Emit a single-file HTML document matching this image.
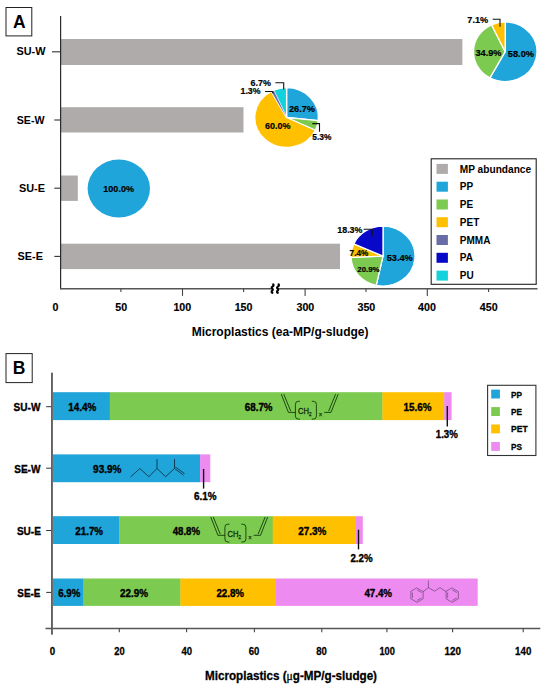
<!DOCTYPE html>
<html><head><meta charset="utf-8"><title>Microplastics in sludge</title>
<style>html,body{margin:0;padding:0;background:#fff}svg{display:block}text{font-family:"Liberation Sans",Arial,sans-serif;font-weight:bold}</style></head><body>
<svg width="550" height="691" viewBox="0 0 550 691">
<rect width="550" height="691" fill="#fff"/>
<!-- Panel A -->
<rect x="6" y="7.5" width="25.8" height="28.4" fill="#fff" stroke="#222" stroke-width="1"/>
<text x="19.2" y="27.7" font-size="17.5" text-anchor="middle" fill="#000" >A</text>
<rect x="61" y="39" width="401.4" height="26" fill="#AFABAB"/>
<line x1="52" y1="51.8" x2="60.5" y2="51.8" stroke="#333" stroke-width="1.1"/>
<text x="16.5" y="55.3" font-size="10.8" text-anchor="start" fill="#000" textLength="29.0" lengthAdjust="spacingAndGlyphs" >SU-W</text>
<rect x="61" y="107.2" width="182.5" height="25.3" fill="#AFABAB"/>
<line x1="54.3" y1="120" x2="60.5" y2="120" stroke="#333" stroke-width="1.1"/>
<text x="16.7" y="124" font-size="10.8" text-anchor="start" fill="#000" textLength="27.8" lengthAdjust="spacingAndGlyphs" >SE-W</text>
<rect x="61" y="175.5" width="16.799999999999997" height="25.4" fill="#AFABAB"/>
<line x1="54.3" y1="188.2" x2="60.5" y2="188.2" stroke="#333" stroke-width="1.1"/>
<text x="19" y="192.2" font-size="10.8" text-anchor="start" fill="#000" textLength="26" lengthAdjust="spacingAndGlyphs" >SU-E</text>
<rect x="61" y="243.7" width="279" height="25.4" fill="#AFABAB"/>
<line x1="54.3" y1="256.4" x2="60.5" y2="256.4" stroke="#333" stroke-width="1.1"/>
<text x="17.6" y="260.4" font-size="10.8" text-anchor="start" fill="#000" textLength="25.4" lengthAdjust="spacingAndGlyphs" >SE-E</text>
<line x1="60.6" y1="16" x2="60.6" y2="289.3" stroke="#2b2b2b" stroke-width="1.2"/>
<line x1="60" y1="288.7" x2="272" y2="288.7" stroke="#555" stroke-width="1.5"/>
<line x1="277.6" y1="288.7" x2="537.5" y2="288.7" stroke="#555" stroke-width="1.5"/>
<path d="M273.2,284.3 C275.0,286 270.0,287.2 272.2,288.7 C274.4,290.2 269.8,291.4 272.4,292.8" fill="none" stroke="#000" stroke-width="2.1" stroke-linecap="round"/>
<path d="M278.6,284.3 C280.40000000000003,286 275.40000000000003,287.2 277.6,288.7 C279.8,290.2 275.20000000000005,291.4 277.8,292.8" fill="none" stroke="#000" stroke-width="2.1" stroke-linecap="round"/>
<line x1="120.9" y1="288.7" x2="120.9" y2="291.9" stroke="#444" stroke-width="1.1"/>
<line x1="182.5" y1="288.7" x2="182.5" y2="295.9" stroke="#444" stroke-width="1.1"/>
<line x1="243.6" y1="288.7" x2="243.6" y2="291.9" stroke="#444" stroke-width="1.1"/>
<line x1="305.1" y1="288.7" x2="305.1" y2="295.9" stroke="#444" stroke-width="1.1"/>
<line x1="366" y1="288.7" x2="366" y2="291.9" stroke="#444" stroke-width="1.1"/>
<line x1="427.3" y1="288.7" x2="427.3" y2="295.9" stroke="#444" stroke-width="1.1"/>
<line x1="488.6" y1="288.7" x2="488.6" y2="291.9" stroke="#444" stroke-width="1.1"/>
<text x="55.5" y="310.8" font-size="10.7" text-anchor="middle" fill="#000"  stroke="#000" stroke-width="0.15" stroke-linejoin="round">0</text>
<text x="121.2" y="310.8" font-size="10.7" text-anchor="middle" fill="#000"  stroke="#000" stroke-width="0.15" stroke-linejoin="round">50</text>
<text x="182.3" y="310.8" font-size="10.7" text-anchor="middle" fill="#000"  stroke="#000" stroke-width="0.15" stroke-linejoin="round">100</text>
<text x="243.6" y="310.8" font-size="10.7" text-anchor="middle" fill="#000"  stroke="#000" stroke-width="0.15" stroke-linejoin="round">150</text>
<text x="305.4" y="310.8" font-size="10.7" text-anchor="middle" fill="#000"  stroke="#000" stroke-width="0.15" stroke-linejoin="round">300</text>
<text x="366.4" y="310.8" font-size="10.7" text-anchor="middle" fill="#000"  stroke="#000" stroke-width="0.15" stroke-linejoin="round">350</text>
<text x="427" y="310.8" font-size="10.7" text-anchor="middle" fill="#000"  stroke="#000" stroke-width="0.15" stroke-linejoin="round">400</text>
<text x="488.7" y="310.8" font-size="10.7" text-anchor="middle" fill="#000"  stroke="#000" stroke-width="0.15" stroke-linejoin="round">450</text>
<text x="191.7" y="335.7" font-size="12" text-anchor="start" fill="#000" textLength="176.8" lengthAdjust="spacingAndGlyphs" >Microplastics (ea-MP/g-sludge)</text>
<path d="M505.20,51.70 L505.20,21.90 A31.700000000000003,29.8 0 1 1 489.93,77.81 Z" fill="#1FA5D9" stroke="#fff" stroke-width="1.3" stroke-linejoin="round"/>
<path d="M505.20,51.70 L489.93,77.81 A31.700000000000003,29.8 0 0 1 491.52,24.82 Z" fill="#7DCA50" stroke="#fff" stroke-width="1.3" stroke-linejoin="round"/>
<path d="M505.20,51.70 L491.52,24.82 A31.700000000000003,29.8 0 0 1 505.20,21.90 Z" fill="#FFC000" stroke="#fff" stroke-width="1.3" stroke-linejoin="round"/>
<path d="M286.60,117.50 L286.60,87.60 A31.8,29.900000000000002 0 0 1 318.22,120.69 Z" fill="#1FA5D9" stroke="#fff" stroke-width="1.3" stroke-linejoin="round"/>
<path d="M286.60,117.50 L318.22,120.69 A31.8,29.900000000000002 0 0 1 315.37,130.23 Z" fill="#7DCA50" stroke="#fff" stroke-width="1.3" stroke-linejoin="round"/>
<path d="M286.60,117.50 L315.37,130.23 A31.8,29.900000000000002 0 1 1 271.28,91.30 Z" fill="#FFC000" stroke="#fff" stroke-width="1.3" stroke-linejoin="round"/>
<path d="M286.60,117.50 L271.28,91.30 A31.8,29.900000000000002 0 0 1 273.60,90.21 Z" fill="#6A6CA6" stroke="#fff" stroke-width="1.3" stroke-linejoin="round"/>
<path d="M286.60,117.50 L273.60,90.21 A31.8,29.900000000000002 0 0 1 286.60,87.60 Z" fill="#14D2DC" stroke="#fff" stroke-width="1.3" stroke-linejoin="round"/>
<path d="M286.60,117.50 L271.57,91.82 L273.85,90.76 Z" fill="#6A6CA6"/>
<ellipse cx="118.8" cy="188.5" rx="31.2" ry="29" fill="#1FA5D9"/>
<path d="M383.00,256.10 L383.00,226.20 A32.0,29.900000000000002 0 1 1 376.22,285.32 Z" fill="#1FA5D9" stroke="#fff" stroke-width="1.3" stroke-linejoin="round"/>
<path d="M383.00,256.10 L376.22,285.32 A32.0,29.900000000000002 0 0 1 351.03,257.41 Z" fill="#7DCA50" stroke="#fff" stroke-width="1.3" stroke-linejoin="round"/>
<path d="M383.00,256.10 L351.03,257.41 A32.0,29.900000000000002 0 0 1 353.79,243.88 Z" fill="#FFC000" stroke="#fff" stroke-width="1.3" stroke-linejoin="round"/>
<path d="M383.00,256.10 L353.79,243.88 A32.0,29.900000000000002 0 0 1 383.00,226.20 Z" fill="#0808C8" stroke="#fff" stroke-width="1.3" stroke-linejoin="round"/>
<text x="467.3" y="23.2" font-size="9.42" text-anchor="start" fill="#000" textLength="20.9" lengthAdjust="spacingAndGlyphs"  stroke="#000" stroke-width="0.2" stroke-linejoin="round">7.1%</text>
<text x="475.5" y="55.9" font-size="9.42" text-anchor="start" fill="#000" textLength="26.0" lengthAdjust="spacingAndGlyphs"  stroke="#000" stroke-width="0.2" stroke-linejoin="round">34.9%</text>
<text x="507.8" y="57.2" font-size="9.49" text-anchor="start" fill="#000" textLength="26.2" lengthAdjust="spacingAndGlyphs"  stroke="#000" stroke-width="0.2" stroke-linejoin="round">58.0%</text>
<text x="250.5" y="86.2" font-size="9.16" text-anchor="start" fill="#000" textLength="20.3" lengthAdjust="spacingAndGlyphs"  stroke="#000" stroke-width="0.2" stroke-linejoin="round">6.7%</text>
<text x="240.5" y="94.2" font-size="9.03" text-anchor="start" fill="#000" textLength="20.0" lengthAdjust="spacingAndGlyphs"  stroke="#000" stroke-width="0.2" stroke-linejoin="round">1.3%</text>
<text x="289" y="111.5" font-size="9.42" text-anchor="start" fill="#000" textLength="26" lengthAdjust="spacingAndGlyphs"  stroke="#000" stroke-width="0.2" stroke-linejoin="round">26.7%</text>
<text x="265" y="129" font-size="9.24" text-anchor="start" fill="#000" textLength="25.5" lengthAdjust="spacingAndGlyphs"  stroke="#000" stroke-width="0.2" stroke-linejoin="round">60.0%</text>
<text x="312.3" y="140.1" font-size="8.63" text-anchor="start" fill="#000" textLength="19.1" lengthAdjust="spacingAndGlyphs"  stroke="#000" stroke-width="0.2" stroke-linejoin="round">5.3%</text>
<text x="103.3" y="191.9" font-size="9.3" text-anchor="start" fill="#000" textLength="30.7" lengthAdjust="spacingAndGlyphs"  stroke="#000" stroke-width="0.2" stroke-linejoin="round">100.0%</text>
<text x="337.3" y="232.9" font-size="9.1" text-anchor="start" fill="#000" textLength="25.1" lengthAdjust="spacingAndGlyphs"  stroke="#000" stroke-width="0.2" stroke-linejoin="round">18.3%</text>
<text x="349.6" y="255.5" font-size="8.41" text-anchor="start" fill="#000" textLength="18.6" lengthAdjust="spacingAndGlyphs"  stroke="#000" stroke-width="0.2" stroke-linejoin="round">7.4%</text>
<text x="357.3" y="271.5" font-size="8.08" text-anchor="start" fill="#000" textLength="22.2" lengthAdjust="spacingAndGlyphs"  stroke="#000" stroke-width="0.2" stroke-linejoin="round">20.9%</text>
<text x="386.7" y="260.9" font-size="9.42" text-anchor="start" fill="#000" textLength="26.0" lengthAdjust="spacingAndGlyphs"  stroke="#000" stroke-width="0.2" stroke-linejoin="round">53.4%</text>
<polyline points="492.7,19.2 500,19.2 500,26.8" fill="none" stroke="#111" stroke-width="1.1"/>
<polyline points="275.4,82.7 283.7,82.7 283.7,89.6" fill="none" stroke="#111" stroke-width="1.1"/>
<polyline points="265,91.5 272.3,91.5 273.2,93.3" fill="none" stroke="#111" stroke-width="1.1"/>
<polyline points="312.3,123.6 319.5,123.6 319.5,131.8" fill="none" stroke="#111" stroke-width="1.1"/>
<polyline points="363.6,229.2 372.2,229.2 372.2,236.5" fill="none" stroke="#111" stroke-width="1.1"/>
<rect x="431.2" y="158.8" width="105" height="125.5" fill="#fff" stroke="#222" stroke-width="1.1"/>
<rect x="436.5" y="163.9" width="11.4" height="10" fill="#AFABAB"/>
<text x="459.8" y="172.5" font-size="10" text-anchor="start" fill="#000" textLength="71.3" lengthAdjust="spacingAndGlyphs" >MP abundance</text>
<rect x="436.5" y="181.7" width="11.4" height="10" fill="#1FA5D9"/>
<text x="459.8" y="190.3" font-size="10" text-anchor="start" fill="#000" >PP</text>
<rect x="436.5" y="199.5" width="11.4" height="10" fill="#7DCA50"/>
<text x="459.8" y="208.1" font-size="10" text-anchor="start" fill="#000" >PE</text>
<rect x="436.5" y="217.2" width="11.4" height="10" fill="#FFC000"/>
<text x="459.8" y="225.8" font-size="10" text-anchor="start" fill="#000" >PET</text>
<rect x="436.5" y="235.0" width="11.4" height="10" fill="#6A6CA6"/>
<text x="459.8" y="243.6" font-size="10" text-anchor="start" fill="#000" >PMMA</text>
<rect x="436.5" y="252.8" width="11.4" height="10" fill="#0808C8"/>
<text x="459.8" y="261.4" font-size="10" text-anchor="start" fill="#000" >PA</text>
<rect x="436.5" y="270.6" width="11.4" height="10" fill="#14D2DC"/>
<text x="459.8" y="279.2" font-size="10" text-anchor="start" fill="#000" >PU</text>
<!-- Panel B -->
<rect x="6" y="353.6" width="26.2" height="29" fill="#fff" stroke="#222" stroke-width="1"/>
<text x="19.1" y="374.3" font-size="17.5" text-anchor="middle" fill="#000" >B</text>
<line x1="51.9" y1="372.7" x2="51.9" y2="634.5" stroke="#606060" stroke-width="1.6"/>
<line x1="45.5" y1="628.5" x2="540.3" y2="628.5" stroke="#555" stroke-width="1.3"/>
<line x1="119.3" y1="628.5" x2="119.3" y2="632.3" stroke="#444" stroke-width="1.1"/>
<line x1="186.6" y1="628.5" x2="186.6" y2="632.3" stroke="#444" stroke-width="1.1"/>
<line x1="254.4" y1="628.5" x2="254.4" y2="632.3" stroke="#444" stroke-width="1.1"/>
<line x1="321.8" y1="628.5" x2="321.8" y2="632.3" stroke="#444" stroke-width="1.1"/>
<line x1="386.9" y1="628.5" x2="386.9" y2="632.3" stroke="#444" stroke-width="1.1"/>
<line x1="452.6" y1="628.5" x2="452.6" y2="632.3" stroke="#444" stroke-width="1.1"/>
<line x1="523.2" y1="628.5" x2="523.2" y2="632.3" stroke="#444" stroke-width="1.1"/>
<text x="49.8" y="654.5" font-size="11.5" text-anchor="start" fill="#000" textLength="5.4" lengthAdjust="spacingAndGlyphs"  stroke="#000" stroke-width="0.3" stroke-linejoin="round">0</text>
<text x="114.2" y="654.5" font-size="11.5" text-anchor="start" fill="#000" textLength="10.4" lengthAdjust="spacingAndGlyphs"  stroke="#000" stroke-width="0.3" stroke-linejoin="round">20</text>
<text x="181.5" y="654.5" font-size="11.5" text-anchor="start" fill="#000" textLength="10.6" lengthAdjust="spacingAndGlyphs"  stroke="#000" stroke-width="0.3" stroke-linejoin="round">40</text>
<text x="248.7" y="654.5" font-size="11.5" text-anchor="start" fill="#000" textLength="10.6" lengthAdjust="spacingAndGlyphs"  stroke="#000" stroke-width="0.3" stroke-linejoin="round">60</text>
<text x="316.2" y="654.5" font-size="11.5" text-anchor="start" fill="#000" textLength="10.6" lengthAdjust="spacingAndGlyphs"  stroke="#000" stroke-width="0.3" stroke-linejoin="round">80</text>
<text x="379.4" y="654.5" font-size="11.5" text-anchor="start" fill="#000" textLength="15.4" lengthAdjust="spacingAndGlyphs"  stroke="#000" stroke-width="0.3" stroke-linejoin="round">100</text>
<text x="444.6" y="654.5" font-size="11.5" text-anchor="start" fill="#000" textLength="16.4" lengthAdjust="spacingAndGlyphs"  stroke="#000" stroke-width="0.3" stroke-linejoin="round">120</text>
<text x="515.1" y="654.5" font-size="11.5" text-anchor="start" fill="#000" textLength="16.2" lengthAdjust="spacingAndGlyphs"  stroke="#000" stroke-width="0.3" stroke-linejoin="round">140</text>
<text x="205" y="679.6" font-size="13.2" text-anchor="start" fill="#000" textLength="172" lengthAdjust="spacingAndGlyphs"  stroke="#000" stroke-width="0.3" stroke-linejoin="round">Microplastics (<tspan font-family="Liberation Serif, serif" font-weight="normal">μ</tspan>g-MP/g-sludge)</text>
<rect x="53" y="392.2" width="57.1" height="27.9" fill="#1FA5D9"/>
<rect x="109.8" y="392.2" width="272.9" height="27.9" fill="#7DCA50"/>
<rect x="382.4" y="392.2" width="62.1" height="27.9" fill="#FFC000"/>
<rect x="444.2" y="392.2" width="7.4" height="27.9" fill="#ED8BF1"/>
<line x1="46.2" y1="406.7" x2="51.5" y2="406.7" stroke="#333" stroke-width="1"/>
<text x="13.6" y="410.5" font-size="11.1" text-anchor="start" fill="#000" textLength="26.8" lengthAdjust="spacingAndGlyphs"  stroke="#000" stroke-width="0.35" stroke-linejoin="round">SU-W</text>
<rect x="53" y="454.4" width="147.4" height="27.8" fill="#1FA5D9"/>
<rect x="200.1" y="454.4" width="10.2" height="27.8" fill="#ED8BF1"/>
<line x1="46.2" y1="468.2" x2="51.5" y2="468.2" stroke="#333" stroke-width="1"/>
<text x="14.2" y="472.5" font-size="11.1" text-anchor="start" fill="#000" textLength="26.2" lengthAdjust="spacingAndGlyphs"  stroke="#000" stroke-width="0.35" stroke-linejoin="round">SE-W</text>
<rect x="53" y="516.2" width="66.6" height="27.8" fill="#1FA5D9"/>
<rect x="119.3" y="516.2" width="153.7" height="27.8" fill="#7DCA50"/>
<rect x="272.7" y="516.2" width="83.2" height="27.8" fill="#FFC000"/>
<rect x="355.6" y="516.2" width="7.2" height="27.8" fill="#ED8BF1"/>
<line x1="46.2" y1="530.5" x2="51.5" y2="530.5" stroke="#333" stroke-width="1"/>
<text x="16.9" y="534.6" font-size="11.1" text-anchor="start" fill="#000" textLength="24.0" lengthAdjust="spacingAndGlyphs"  stroke="#000" stroke-width="0.35" stroke-linejoin="round">SU-E</text>
<rect x="53" y="578.5" width="30.3" height="27.4" fill="#1FA5D9"/>
<rect x="83" y="578.5" width="97.7" height="27.4" fill="#7DCA50"/>
<rect x="180.4" y="578.5" width="95.5" height="27.4" fill="#FFC000"/>
<rect x="275.6" y="578.5" width="202.1" height="27.4" fill="#ED8BF1"/>
<line x1="46.2" y1="592.4" x2="51.5" y2="592.4" stroke="#333" stroke-width="1"/>
<text x="17.3" y="596.5" font-size="11.1" text-anchor="start" fill="#000" textLength="23.1" lengthAdjust="spacingAndGlyphs"  stroke="#000" stroke-width="0.35" stroke-linejoin="round">SE-E</text>
<line x1="51.9" y1="372.7" x2="51.9" y2="634.5" stroke="#606060" stroke-width="1.6"/>
<text x="68.2" y="410.8" font-size="11.5" text-anchor="start" fill="#000" textLength="28.0" lengthAdjust="spacingAndGlyphs"  stroke="#000" stroke-width="0.4" stroke-linejoin="round">14.4%</text>
<text x="244.8" y="410.8" font-size="11.5" text-anchor="start" fill="#000" textLength="27.7" lengthAdjust="spacingAndGlyphs"  stroke="#000" stroke-width="0.4" stroke-linejoin="round">68.7%</text>
<text x="403.6" y="410.8" font-size="11.5" text-anchor="start" fill="#000" textLength="27.9" lengthAdjust="spacingAndGlyphs"  stroke="#000" stroke-width="0.4" stroke-linejoin="round">15.6%</text>
<text x="435.8" y="438.3" font-size="11.5" text-anchor="start" fill="#000" textLength="22.0" lengthAdjust="spacingAndGlyphs"  stroke="#000" stroke-width="0.4" stroke-linejoin="round">1.3%</text>
<text x="93.1" y="472.8" font-size="11.5" text-anchor="start" fill="#000" textLength="28.2" lengthAdjust="spacingAndGlyphs"  stroke="#000" stroke-width="0.4" stroke-linejoin="round">93.9%</text>
<text x="194" y="499.8" font-size="11.5" text-anchor="start" fill="#000" textLength="22.5" lengthAdjust="spacingAndGlyphs"  stroke="#000" stroke-width="0.4" stroke-linejoin="round">6.1%</text>
<text x="75.3" y="534.9" font-size="11.5" text-anchor="start" fill="#000" textLength="27.7" lengthAdjust="spacingAndGlyphs"  stroke="#000" stroke-width="0.4" stroke-linejoin="round">21.7%</text>
<text x="172.7" y="534.9" font-size="11.5" text-anchor="start" fill="#000" textLength="27.3" lengthAdjust="spacingAndGlyphs"  stroke="#000" stroke-width="0.4" stroke-linejoin="round">48.8%</text>
<text x="298.2" y="534.9" font-size="11.5" text-anchor="start" fill="#000" textLength="28.0" lengthAdjust="spacingAndGlyphs"  stroke="#000" stroke-width="0.4" stroke-linejoin="round">27.3%</text>
<text x="350.4" y="562.4" font-size="11.5" text-anchor="start" fill="#000" textLength="22.2" lengthAdjust="spacingAndGlyphs"  stroke="#000" stroke-width="0.4" stroke-linejoin="round">2.2%</text>
<text x="58.2" y="596.8" font-size="11.5" text-anchor="start" fill="#000" textLength="22.1" lengthAdjust="spacingAndGlyphs"  stroke="#000" stroke-width="0.4" stroke-linejoin="round">6.9%</text>
<text x="120" y="596.8" font-size="11.5" text-anchor="start" fill="#000" textLength="28" lengthAdjust="spacingAndGlyphs"  stroke="#000" stroke-width="0.4" stroke-linejoin="round">22.9%</text>
<text x="216.4" y="596.8" font-size="11.5" text-anchor="start" fill="#000" textLength="27.6" lengthAdjust="spacingAndGlyphs"  stroke="#000" stroke-width="0.4" stroke-linejoin="round">22.8%</text>
<text x="364.4" y="596.8" font-size="11.5" text-anchor="start" fill="#000" textLength="27.6" lengthAdjust="spacingAndGlyphs"  stroke="#000" stroke-width="0.4" stroke-linejoin="round">47.4%</text>
<polyline points="447.3,405.9 447.3,426.5" fill="none" stroke="#111" stroke-width="1.4"/>
<polyline points="203.6,468.9 203.6,488.6" fill="none" stroke="#111" stroke-width="1.4"/>
<polyline points="358.5,529.7 358.5,549.4" fill="none" stroke="#111" stroke-width="1.4"/>
<rect x="487.6" y="385.3" width="48.3" height="70.2" fill="#fff" stroke="#333" stroke-width="1.1"/>
<rect x="491.2" y="389.6" width="8.7" height="8.9" fill="#1FA5D9"/>
<text x="511" y="397.5" font-size="9.8" text-anchor="start" fill="#000" textLength="11" lengthAdjust="spacingAndGlyphs"  stroke="#000" stroke-width="0.3" stroke-linejoin="round">PP</text>
<rect x="491.2" y="407.1" width="8.7" height="8.9" fill="#7DCA50"/>
<text x="511" y="415.0" font-size="9.8" text-anchor="start" fill="#000" textLength="11" lengthAdjust="spacingAndGlyphs"  stroke="#000" stroke-width="0.3" stroke-linejoin="round">PE</text>
<rect x="491.2" y="424.5" width="8.7" height="8.9" fill="#FFC000"/>
<text x="511" y="432.4" font-size="9.8" text-anchor="start" fill="#000" textLength="16.7" lengthAdjust="spacingAndGlyphs"  stroke="#000" stroke-width="0.3" stroke-linejoin="round">PET</text>
<rect x="491.2" y="442.0" width="8.7" height="8.9" fill="#ED8BF1"/>
<text x="511" y="449.9" font-size="9.8" text-anchor="start" fill="#000" textLength="11" lengthAdjust="spacingAndGlyphs"  stroke="#000" stroke-width="0.3" stroke-linejoin="round">PS</text>
<g fill="none" stroke="#1d4a12" stroke-width="1" stroke-linecap="round" stroke-linejoin="round">
<path d="M281.4,394.5 L288.4,412.4 L295.4,412.4"/>
<path d="M283.9,394.5 L290.6,410.8"/>
<path d="M299.6,401.3 L298.4,401.3 Q295.4,401.3 295.4,404.3 L295.4,416.1 Q295.4,419.1 298.4,419.1 L299.6,419.1"/>
<path d="M312.2,401.3 L313.4,401.3 Q316.4,401.3 316.4,404.3 L316.4,416.1 Q316.4,419.1 313.4,419.1 L312.2,419.1"/>
<path d="M324.6,412.4 L331.0,412.4 L338.0,394.5"/>
<path d="M328.8,410.8 L335.5,394.5"/>
</g>
<text x="298.0" y="414.2" font-size="9.2" fill="#0e2a08" stroke="#0e2a08" stroke-width="0.3" style="font-weight:normal" textLength="13.4" lengthAdjust="spacingAndGlyphs">CH<tspan font-size="5.4" dy="1.8">2</tspan></text>
<text x="318.9" y="416.2" font-size="6" fill="#0e2a08" stroke="#0e2a08" stroke-width="0.25" style="font-weight:normal">x</text>
<g fill="none" stroke="#1d4a12" stroke-width="1" stroke-linecap="round" stroke-linejoin="round">
<path d="M210.9,517.4 L217.9,535.3 L224.9,535.3"/>
<path d="M213.4,517.4 L220.1,533.7"/>
<path d="M229.1,524.2 L227.9,524.2 Q224.9,524.2 224.9,527.2 L224.9,539.0 Q224.9,542.0 227.9,542.0 L229.1,542.0"/>
<path d="M241.7,524.2 L242.9,524.2 Q245.9,524.2 245.9,527.2 L245.9,539.0 Q245.9,542.0 242.9,542.0 L241.7,542.0"/>
<path d="M254.1,535.3 L260.5,535.3 L267.5,517.4"/>
<path d="M258.3,533.7 L265.0,517.4"/>
</g>
<text x="227.5" y="537.1" font-size="9.2" fill="#0e2a08" stroke="#0e2a08" stroke-width="0.3" style="font-weight:normal" textLength="13.4" lengthAdjust="spacingAndGlyphs">CH<tspan font-size="5.4" dy="1.8">2</tspan></text>
<text x="248.4" y="539.1" font-size="6" fill="#0e2a08" stroke="#0e2a08" stroke-width="0.25" style="font-weight:normal">x</text>
<g fill="none" stroke="#103a52" stroke-width="0.95" stroke-linecap="round" stroke-linejoin="round">
<path d="M130.8,476.7 L139.8,468.5 L148.8,476.7 L157,468.5 L165.6,476.7 L174.5,468.5 L183.3,475"/>
<path d="M157,468.5 L157,459.4 M174.5,468.5 L174.5,459.4 M175.6,467.2 L184.2,473.4"/>
</g>
<g fill="none" stroke="#6a4378" stroke-width="0.7" stroke-linecap="round" stroke-linejoin="round">
<path d="M417.00,588.10 L423.15,591.65 L423.15,598.75 L417.00,602.30 L410.85,598.75 L410.85,591.65 Z"/>
<path d="M417.36,590.10 L421.24,592.34"/>
<path d="M421.24,598.06 L417.36,600.30"/>
<path d="M412.41,597.44 L412.41,592.96"/>
<path d="M452.20,588.10 L458.35,591.65 L458.35,598.75 L452.20,602.30 L446.05,598.75 L446.05,591.65 Z"/>
<path d="M452.56,590.10 L456.44,592.34"/>
<path d="M456.44,598.06 L452.56,600.30"/>
<path d="M447.61,597.44 L447.61,592.96"/>
<path d="M423.15,591.65 L428.4,587.6 L434.6,591.2 L440,587.6 L446.05,591.65 M428.4,587.6 L428.4,581"/>
</g>
</svg></body></html>
